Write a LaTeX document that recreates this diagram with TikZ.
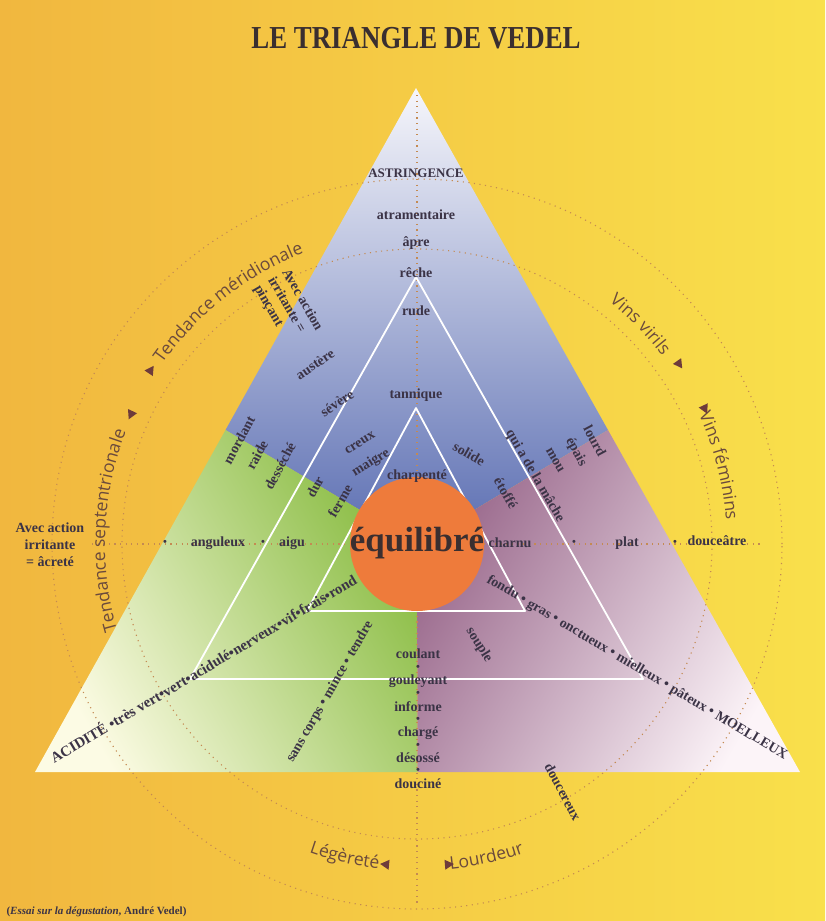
\documentclass[tikz,border=0pt]{standalone}
\usepackage{fontspec}
\setmainfont{Liberation Serif}
\newfontfamily\arcfont{Open Sans}
\usetikzlibrary{shapes.geometric,decorations.text}

\definecolor{bgL}{HTML}{F1B73F}
\definecolor{bgR}{HTML}{F9E04B}
\definecolor{blueT}{HTML}{F6F6FB}
\definecolor{blueB}{HTML}{5B6EB2}
\definecolor{greenL}{HTML}{FCFBE4}
\definecolor{greenM}{HTML}{B4D566}
\definecolor{greenR}{HTML}{89BC42}
\definecolor{pinkL}{HTML}{98668A}
\definecolor{pinkM}{HTML}{A87C9D}
\definecolor{pinkR}{HTML}{FCF4F8}
\definecolor{orangeC}{HTML}{EE7B3B}
\definecolor{ink}{HTML}{3B3346}
\definecolor{titlec}{HTML}{3A2F30}
\definecolor{arcc}{HTML}{6B4A3C}
\definecolor{dotc}{HTML}{C48A52}
\definecolor{arrowc}{HTML}{6E3B3B}

\newcommand{\arcstyle}{\arcfont\fontsize{17.5}{18}\selectfont\color{arcc}}

\begin{document}
\begin{tikzpicture}[x=1pt,y=-1pt,
  word/.style={font=\bfseries\fontsize{14}{16}\selectfont, text=ink, inner sep=0.5pt},
  bul/.style={word, font=\bfseries\fontsize{11}{12}\selectfont},
  whiteline/.style={draw=white, line width=1.8pt, line join=round},
  dotline/.style={draw=dotc, line width=1.1pt, dash pattern=on 1.1pt off 4.5pt},
  arrowtri/.style={isosceles triangle, isosceles triangle apex angle=60,
    isosceles triangle stretches, fill=arrowc, inner sep=0pt,
    minimum height=9pt, minimum width=10pt}]

\useasboundingbox (0,0) rectangle (825,921);
\shade[left color=bgL, right color=bgR] (0,0) rectangle (825,921);

% main triangle, side midpoints and centroid
\coordinate (A) at (416,88);
\coordinate (B) at (35,772);
\coordinate (C) at (800,772);
\coordinate (G) at (417,544);
\coordinate (mAB) at (225.5,430);
\coordinate (mAC) at (608,430);
\coordinate (mBC) at (417.5,772);

% the three coloured sectors
\shade[top color=blueT, bottom color=blueB] (A) -- (mAC) -- (G) -- (mAB) -- cycle;
\shade[left color=greenL, middle color=greenM, right color=greenR, shading angle=120] (mAB) -- (G) -- (mBC) -- (B) -- cycle;
\shade[left color=pinkL, middle color=pinkM, right color=pinkR, shading angle=60] (G) -- (mAC) -- (C) -- (mBC) -- cycle;

% dotted guide circles and axes
\draw[dotline] (G) circle[radius=295pt];
\draw[dotline] (G) circle[radius=365pt];
\coordinate (vt) at (417,95);
\coordinate (vb) at (417,905);
\coordinate (hl) at (92,544);
\coordinate (hr) at (762,544);
\draw[dotline] (vt) -- (vb);
\draw[dotline] (hl) -- (hr);

% nested white triangles
\coordinate (P1) at (416,277);
\coordinate (P2) at (190,679);
\coordinate (P3) at (643,679);
\coordinate (Q1) at (416,408);
\coordinate (Q2) at (307,611);
\coordinate (Q3) at (525,611);
\draw[whiteline] (P1) -- (P2) -- (P3) -- cycle;
\draw[whiteline] (Q1) -- (Q2) -- (Q3) -- cycle;

% centre disc
\fill[orangeC] (G) circle[radius=67pt];
\node[font=\bfseries\fontsize{35}{38}\selectfont, text=titlec] (equi) at (417,543) {équilibré};

% title and source
\node[font=\bfseries\fontsize{32}{34}\selectfont, xscale=0.84, text=titlec] (title) at (416,38) {LE TRIANGLE DE VEDEL};
\node[anchor=west, font=\bfseries\fontsize{11}{12}\selectfont, text=ink] (src) at (3,912)
  {(\textit{Essai sur la dégustation}, André Vedel)};

% vertical axis, upper part
\node[word, font=\bfseries\fontsize{13}{15}\selectfont] (astr) at (416,173) {ASTRINGENCE};
\node[word] (atra) at (416,215) {atramentaire};
\node[word] (apre) at (416,243) {âpre};
\node[word] (reche) at (416,273) {rêche};
\node[word] (rude) at (416,311) {rude};
\node[word] (tann) at (416,395) {tannique};
\node[word] (charp) at (417,476) {charpenté};

% vertical axis, lower part
\node[word] (coul) at (418,654) {coulant};
\node[bul] (b1) at (418,668) {•};
\node[word] (goul) at (418,681) {gouleyant};
\node[bul] (b2) at (418,694) {•};
\node[word] (info) at (418,707) {informe};
\node[bul] (b3) at (418,720) {•};
\node[word] (charg) at (418,733) {chargé};
\node[bul] (b4) at (418,746) {•};
\node[word] (deso) at (418,758) {désossé};
\node[bul] (b5) at (418,771) {•};
\node[word] (douc) at (418,784) {douciné};

% horizontal axis
\node[word, align=center, font=\bfseries\fontsize{14}{17}\selectfont] (acrete) at (50,545) {Avec action\\irritante\\= âcreté};
\node[bul] (b6) at (165,543) {•};
\node[word] (angu) at (218,543) {anguleux};
\node[bul] (b7) at (263,543) {•};
\node[word] (aigu) at (292,543) {aigu};
\node[word] (charnu) at (510,543) {charnu};
\node[bul] (b8) at (574,543) {•};
\node[word] (plat) at (627,543) {plat};
\node[bul] (b9) at (675,543) {•};
\node[word] (douce) at (717,541) {douceâtre};

% upper left sector
\node[word, rotate=34] (aust) at (315,364) {austère};
\node[word, rotate=34] (seve) at (337,403) {sévère};
\node[word, rotate=32] (creux) at (360,443) {creux};
\node[word, rotate=32] (maig) at (371,463) {maigre};
\node[word, rotate=62] (mord) at (239,440) {mordant};
\node[word, rotate=62] (raide) at (257,455) {raide};
\node[word, rotate=62] (dess) at (280,466) {desséché};
\node[word, rotate=62] (dur) at (315,487) {dur};
\node[word, rotate=60] (ferme) at (340,501) {ferme};
\node[word, rotate=-60, align=left, font=\bfseries\fontsize{14}{16}\selectfont] (pinc) at (288,308) {Avec action\\irritante =\\pinçant};

% upper right sector
\node[word, rotate=-30] (solide) at (469,454) {solide};
\node[word, rotate=-60] (etof) at (506,493) {étoffé};
\node[word, rotate=-60] (mache) at (535,476) {qui a de la mâche};
\node[word, rotate=-60] (mou) at (555,460) {mou};
\node[word, rotate=-62] (epais) at (576,452) {épais};
\node[word, rotate=-62] (lourd) at (595,441) {lourd};

% lower sectors
\node[word, rotate=-58] (souple) at (479,645) {souple};
\node[word, rotate=-62] (doucer) at (563,792) {doucereux};
\node[word, rotate=60] (sans) at (330,692) {sans corps • mince • tendre};
\node[word, rotate=30.8, font=\bfseries\fontsize{14.8}{16}\selectfont] (acid) at (203,668) {ACIDITÉ •très vert•vert•acidulé•nerveux•vif•frais•rond};
\node[word, rotate=-30.8] (moel) at (637,668) {fondu • gras • onctueux • mielleux • pâteux • MOELLEUX};

% tendencies written round the guide circle
\begin{scope}[shift={(G)}, y=1pt]
  \path[decorate, decoration={text along path, text align=center,
      text={|\arcstyle|Tendance méridionale}}]
    (146:312) arc[start angle=146, end angle=110, radius=312];
  \path[decorate, decoration={text along path, text align=center,
      text={|\arcstyle|Tendance septentrionale}}]
    (198:312) arc[start angle=198, end angle=157, radius=312];
  \path[decorate, decoration={text along path, text align=center,
      text={|\arcstyle|Vins virils}}]
    (53:309) arc[start angle=53, end angle=36, radius=309];
  \path[decorate, decoration={text along path, text align=center,
      text={|\arcstyle|Vins féminins}}]
    (28:310) arc[start angle=28, end angle=1, radius=310];
  \path[decorate, decoration={text along path, text align=center,
      text={|\arcstyle|Légèreté}}]
    (249:327) arc[start angle=249, end angle=265, radius=327];
  \path[decorate, decoration={text along path, text align=center,
      text={|\arcstyle|Lourdeur}}]
    (274:327) arc[start angle=274, end angle=291, radius=327];
  \node[arrowtri, rotate=56] (t1) at (147:318) {};
  \node[arrowtri, rotate=245] (t2) at (155.5:314) {};
  \node[arrowtri, rotate=-55] (t3) at (34.6:318) {};
  \node[arrowtri, rotate=-65] (t4) at (25.3:318) {};
  \node[arrowtri, rotate=174.5] (t5) at (264.5:322) {};
  \node[arrowtri, rotate=5] (t6) at (275.5:322) {};
\end{scope}
\end{tikzpicture}
\end{document}
